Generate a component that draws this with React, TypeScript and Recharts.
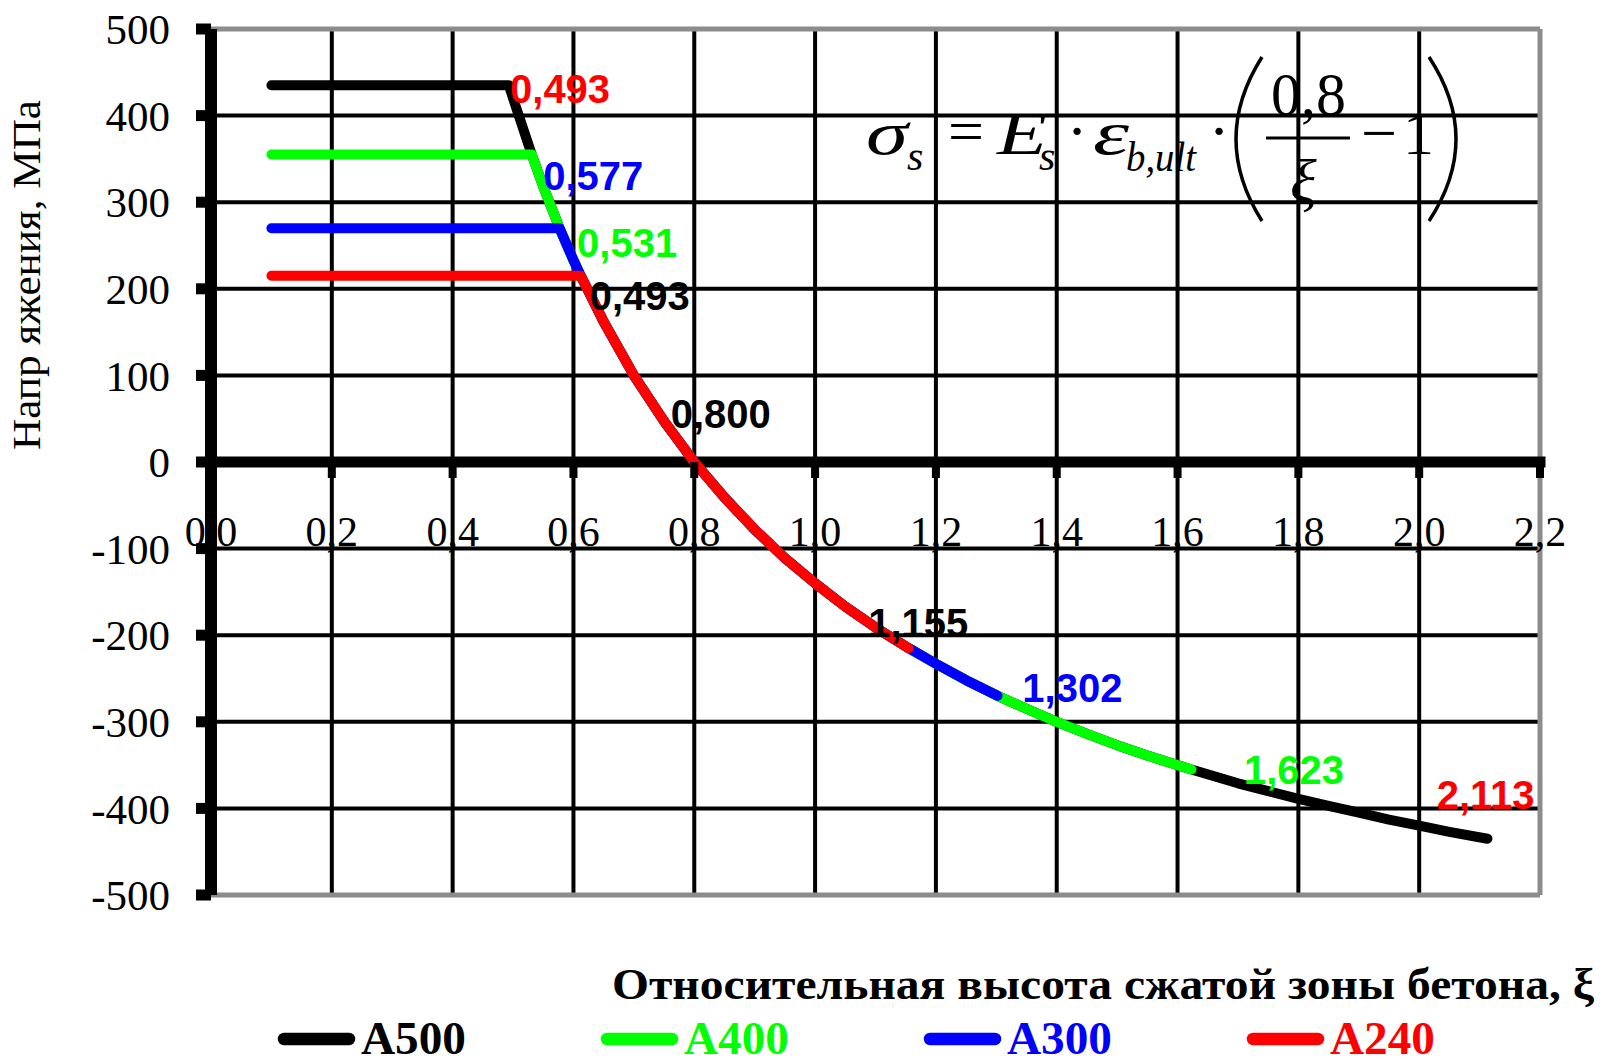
import React from 'react';
import { LineChart, Line, XAxis, YAxis, CartesianGrid, ReferenceLine, ReferenceDot, Legend } from 'recharts';

// ---- data ----
const steelClasses = ['А500', 'А400', 'А300', 'А240'];
const designStrength = [435, 355, 270, 215];
const xiBoundary = [0.493, 0.531, 0.577, 0.612];
const xiEndPoints = [2.113, 1.623, 1.302, 1.155];
const xiStart = 0.1;

const xiCurve = [0.493, 0.5, 0.531, 0.55, 0.577, 0.6, 0.612, 0.65, 0.7, 0.75, 0.8, 0.85, 0.9, 0.95, 1.0, 1.05, 1.1, 1.155, 1.2, 1.25, 1.302, 1.35, 1.4, 1.45, 1.5, 1.55, 1.623, 1.7, 1.75, 1.8, 1.85, 1.9, 1.95, 2.0, 2.05, 2.113];
const sigmaCurve = [435, 420, 355, 318, 270, 233, 215, 162, 100, 47, 0, -41, -78, -111, -140, -167, -191, -215, -233, -252, -270, -285, -300, -314, -327, -339, -355, -371, -380, -389, -397, -405, -413, -420, -427, -435];

const xTicks = [0, 0.2, 0.4, 0.6, 0.8, 1.0, 1.2, 1.4, 1.6, 1.8, 2.0, 2.2];
const xTickLabels = ['0,0', '0,2', '0,4', '0,6', '0,8', '1,0', '1,2', '1,4', '1,6', '1,8', '2,0', '2,2'];
const yTicks = [-500, -400, -300, -200, -100, 0, 100, 200, 300, 400, 500];
const xLabelLevel = -100;

const pointLabels = [
  { text: '0,493', series: 3, xi: 0.495, sigma: 414 },
  { text: '0,577', series: 2, xi: 0.55, sigma: 314 },
  { text: '0,531', series: 1, xi: 0.606, sigma: 237 },
  { text: '0,493', series: 0, xi: 0.627, sigma: 176 },
  { text: '0,800', series: 0, xi: 0.761, sigma: 39 },
  { text: '1,155', series: 0, xi: 1.088, sigma: -202 },
  { text: '1,302', series: 2, xi: 1.343, sigma: -277 },
  { text: '1,623', series: 1, xi: 1.71, sigma: -372 },
  { text: '2,113', series: 3, xi: 2.029, sigma: -401 },
];

const yTitle = 'Напр яжения, МПа';
const xTitle = 'Относительная высота сжатой зоны бетона, ξ';

// ---- styles ----
const COLORS = ['#000000', '#00ff00', '#0000ff', '#ff0000'];
const SERIF = '"Liberation Serif", "Times New Roman", Times, serif';
const SANS = '"Liberation Sans", Arial, Helvetica, sans-serif';

const seriesData = steelClasses.map((_, i) => [
  { x: xiStart, y: designStrength[i] },
  ...xiCurve
    .map((x, k) => ({ x, y: sigmaCurve[k] }))
    .filter((p) => p.x >= xiBoundary[i] && p.x <= xiEndPoints[i]),
]);

const TickMark = (props: any) => (
  <rect x={props.cx - 4} y={props.cy} width={8} height={16} fill="#000" />
);

const makeTickLabel = (label: string) => (props: any) => (
  <text x={props.cx} y={props.cy - 3} textAnchor="middle" fontFamily={SERIF} fontSize={42} fill="#000">
    {label}
  </text>
);

const makePointLabel = (text: string, color: string) => (props: any) => (
  <text x={props.cx} y={props.cy} textAnchor="start" fontFamily={SANS} fontWeight="bold" fontSize={40} fill={color}>
    {text}
  </text>
);

const renderLegend = (props: any) => {
  const payload = props.payload || [];
  return (
    <svg width={1606} height={76} style={{ display: 'block', overflow: 'visible' }}>
      {payload.map((entry: any, i: number) => {
        const idx = steelClasses.indexOf(entry.value);
        const k = idx >= 0 ? idx : i;
        const bx = 278 + k * 323;
        return (
          <g key={entry.value}>
            <line x1={bx + 6} x2={bx + 71} y1={54} y2={54} stroke={COLORS[k]} strokeWidth={12.5} strokeLinecap="round" />
            <text x={bx + 83} y={69} fontFamily={SERIF} fontWeight="bold" fontSize={46} fill={COLORS[k]} textLength={105} lengthAdjust="spacingAndGlyphs">
              {entry.value}
            </text>
          </g>
        );
      })}
    </svg>
  );
};

const Overlay = () => (
  <svg width={1606} height={1061} style={{ position: 'absolute', left: 0, top: 0, pointerEvents: 'none' }}>
    <text
      x={40}
      y={275}
      transform="rotate(-90 40 275)"
      textAnchor="middle"
      fontFamily={SERIF}
      fontSize={41}
      fill="#000"
      textLength={350}
      lengthAdjust="spacingAndGlyphs"
    >
      {yTitle}
    </text>
    <text x={612} y={999} fontFamily={SERIF} fontWeight="bold" fontSize={45} fill="#000" textLength={982} lengthAdjust="spacingAndGlyphs">
      {xTitle}
    </text>
    <g fontFamily={SERIF} fill="#000">
      <text x={866} y={154} fontSize={62} fontStyle="italic" textLength={42} lengthAdjust="spacingAndGlyphs">σ</text>
      <text x={907} y={170} fontSize={42} fontStyle="italic">s</text>
      <text x={948} y={152} fontSize={62} textLength={36} lengthAdjust="spacingAndGlyphs">=</text>
      <text x={997} y={154} fontSize={62} fontStyle="italic" textLength={50} lengthAdjust="spacingAndGlyphs">E</text>
      <text x={1039} y={170} fontSize={42} fontStyle="italic">s</text>
      <text x={1077} y={152} fontSize={62} textAnchor="middle">·</text>
      <text x={1093} y={154} fontSize={62} fontStyle="italic" textLength={36} lengthAdjust="spacingAndGlyphs">ε</text>
      <text x={1126} y={171} fontSize={42} fontStyle="italic" textLength={70} lengthAdjust="spacingAndGlyphs">b,ult</text>
      <text x={1219} y={152} fontSize={62} textAnchor="middle">·</text>
      <path d="M1262 57 Q1210 139 1262 221" fill="none" stroke="#000" strokeWidth={3.5} />
      <text x={1271} y={115} fontSize={62} textLength={75} lengthAdjust="spacingAndGlyphs">0,8</text>
      <line x1={1266} x2={1350} y1={138} y2={138} stroke="#000" strokeWidth={3} />
      <text x={1290} y={202} fontSize={62} fontStyle="italic">ξ</text>
      <text x={1361} y={154} fontSize={62} textLength={36} lengthAdjust="spacingAndGlyphs">−</text>
      <text x={1403} y={154} fontSize={62}>1</text>
      <path d="M1429 57 Q1483 139 1429 221" fill="none" stroke="#000" strokeWidth={3.5} />
    </g>
  </svg>
);

export default function App() {
  return (
    <div style={{ position: 'absolute', left: 0, top: 0, width: 1606, height: 1061, background: '#ffffff' }}>
      <LineChart width={1606} height={1061} margin={{ top: 29, right: 66, bottom: 166, left: 0 }}>
        <CartesianGrid stroke="#000" strokeWidth={4} vertical={false} />
        <XAxis
          type="number"
          dataKey="x"
          domain={[0, 2.2]}
          ticks={xTicks}
          interval={0}
          tick={false}
          axisLine={false}
          tickLine={false}
          height={0}
          allowDataOverflow
        />
        <YAxis
          type="number"
          domain={[-500, 500]}
          ticks={yTicks}
          interval={0}
          width={211}
          axisLine={{ stroke: '#000', strokeWidth: 12 }}
          tickLine={{ stroke: '#000', strokeWidth: 11 }}
          tickSize={15}
          tickMargin={26}
          tick={{ fill: '#000', fontSize: 43, fontFamily: SERIF }}
          allowDataOverflow
        />
        {xTicks.slice(1, -1).map((t) => (
          <ReferenceLine key={'vg' + t} x={t} stroke="#000" strokeWidth={4} />
        ))}
        <ReferenceLine y={500} stroke="#8c8c8c" strokeWidth={5} />
        <ReferenceLine y={-500} stroke="#8c8c8c" strokeWidth={5} />
        <ReferenceLine x={2.2} stroke="#8c8c8c" strokeWidth={5} />
        <ReferenceLine y={0} stroke="#000" strokeWidth={11} strokeLinecap="square" />
        {xTicks.slice(1).map((t) => (
          <ReferenceDot key={'tm' + t} x={t} y={0} r={1} shape={TickMark} />
        ))}
        {xTicks.map((t, i) => (
          <ReferenceDot key={'tl' + t} x={t} y={xLabelLevel} r={1} shape={makeTickLabel(xTickLabels[i])} />
        ))}
        {steelClasses.map((name, i) => (
          <Line
            key={name}
            name={name}
            data={seriesData[i]}
            dataKey="y"
            type="linear"
            stroke={COLORS[i]}
            strokeWidth={10}
            strokeLinejoin="round"
            strokeLinecap="round"
            dot={false}
            activeDot={false}
            legendType="line"
            isAnimationActive={false}
          />
        ))}
        {pointLabels.map((p, i) => (
          <ReferenceDot key={'pl' + i} x={p.xi} y={p.sigma} r={1} shape={makePointLabel(p.text, COLORS[p.series])} />
        ))}
        <Legend
          layout="horizontal"
          verticalAlign="middle"
          align="center"
          wrapperStyle={{ position: 'absolute', left: 0, top: 985, width: 1606, height: 76 }}
          content={renderLegend}
        />
      </LineChart>
      <Overlay />
    </div>
  );
}
